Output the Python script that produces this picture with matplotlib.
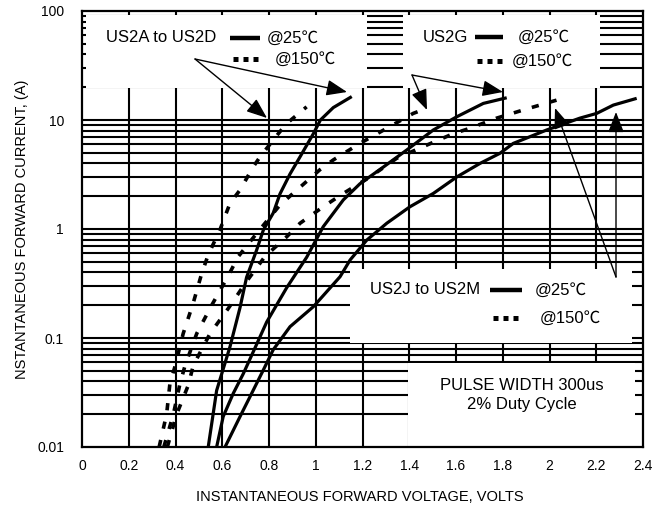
import matplotlib
matplotlib.use("Agg")
import matplotlib.pyplot as plt
from matplotlib.patches import Rectangle
from matplotlib.ticker import FixedLocator, NullLocator, FixedFormatter

plt.rcParams['font.family'] = ['Liberation Sans', 'Noto Sans CJK SC', 'DejaVu Sans']

# ---- data ----
v_a25 = [0.54, 0.576, 0.633, 0.676, 0.704, 0.747, 0.776, 0.818, 0.847, 0.89, 0.933, 0.99, 1.02, 1.075, 1.154]
i_a25 = [0.01, 0.033, 0.083, 0.19, 0.36, 0.64, 0.98, 1.4, 2.1, 3.2, 4.6, 7.5, 10, 13, 16.4]

v_g25 = [0.576, 0.604, 0.647, 0.69, 0.733, 0.79, 0.876, 0.961, 1.032, 1.118, 1.189, 1.289, 1.389, 1.503, 1.603, 1.717, 1.817]
i_g25 = [0.01, 0.019, 0.031, 0.047, 0.075, 0.14, 0.29, 0.55, 1.05, 1.85, 2.6, 3.7, 5.3, 8.1, 10.7, 14.2, 16]

v_j25 = [0.612, 0.676, 0.719, 0.776, 0.818, 0.89, 0.99, 1.104, 1.147, 1.218, 1.304, 1.403, 1.503, 1.603, 1.703, 1.788, 1.845, 1.988, 2.13, 2.202, 2.273, 2.373]
i_j25 = [0.01, 0.019, 0.029, 0.051, 0.078, 0.127, 0.194, 0.365, 0.52, 0.79, 1.13, 1.6, 2.12, 3.0, 4.0, 4.95, 6.1, 8.1, 10.4, 11.5, 13.7, 15.8]

v_a150 = [0.33, 0.362, 0.376, 0.398, 0.433, 0.476, 0.512, 0.54, 0.59, 0.633, 0.676, 0.733, 0.762, 0.84, 0.876, 0.961]
i_a150 = [0.01, 0.02, 0.038, 0.055, 0.11, 0.21, 0.39, 0.58, 0.98, 1.72, 2.28, 3.73, 4.6, 7.5, 9.3, 13.2]

v_g150 = [0.35, 0.391, 0.419, 0.441, 0.491, 0.555, 0.619, 0.669, 0.747, 0.847, 0.911, 1.018, 1.075, 1.189, 1.304, 1.417, 1.475]
i_g150 = [0.01, 0.02, 0.038, 0.056, 0.11, 0.2, 0.35, 0.56, 0.91, 1.66, 2.2, 3.5, 4.3, 6.1, 8.4, 11.5, 12.8]

v_j150 = [0.365, 0.405, 0.455, 0.476, 0.548, 0.626, 0.704, 0.783, 0.876, 0.933, 1.032, 1.118, 1.232, 1.346, 1.46, 1.589, 1.66, 1.774, 1.89, 2.03]
i_j150 = [0.01, 0.02, 0.037, 0.056, 0.11, 0.187, 0.33, 0.56, 0.85, 1.13, 1.6, 2.12, 3.0, 4.45, 5.7, 7.5, 8.4, 10.4, 12.4, 15.2]

x_ticks = [0, 0.2, 0.4, 0.6, 0.8, 1.0, 1.2, 1.4, 1.6, 1.8, 2.0, 2.2, 2.4]
x_labels = ['0', '0.2', '0.4', '0.6', '0.8', '1', '1.2', '1.4', '1.6', '1.8', '2', '2.2', '2.4']
y_ticks = [0.01, 0.1, 1, 10, 100]
y_labels = ['0.01', '0.1', '1', '10', '100']

# ---- figure ----
W, H = 669, 508
fig = plt.figure(figsize=(W / 100, H / 100), dpi=100)
L, R, T, B = 82, 643, 11, 447
ax = fig.add_axes([L / W, 1 - B / H, (R - L) / W, (B - T) / H])
ax.set_xlim(0, 2.4)
ax.set_yscale('log')
ax.set_ylim(0.01, 100)


def fx(px):
    return (px - L) / (R - L)


def fy(py):
    return (B - py) / (B - T)


# grid
for x in x_ticks[1:-1]:
    ax.axvline(x, color='black', lw=1.5, zorder=1)
for dec in [0.01, 0.1, 1, 10]:
    for m in range(1, 10):
        val = dec * m
        if val > 0.01:
            ax.axhline(val, color='black', lw=1.5, zorder=1)

# white boxes
boxes = [(86, 15, 367, 88), (403, 15, 600, 88), (350, 269, 632, 343), (408, 363, 635, 447)]
for x0, y0, x1, y1 in boxes:
    ax.add_patch(Rectangle((fx(x0), fy(y1)), fx(x1) - fx(x0), fy(y0) - fy(y1),
                           transform=ax.transAxes, facecolor='white', edgecolor='none', zorder=2))

solid = dict(color='black', lw=2.3, solid_capstyle='butt', zorder=4)
dash = dict(color='black', lw=2.6, linestyle=(0, (2.0, 3.2)), zorder=4)

ax.plot(v_a25, i_a25, **solid)
ax.plot(v_g25, i_g25, **solid)
ax.plot(v_j25, i_j25, **solid)
ax.plot(v_a150, i_a150, **dash)
ax.plot(v_g150, i_g150, **dash)
ax.plot(v_j150, i_j150, **dash)

# legends
fs = 12
leg_solid = dict(color='black', lw=3.2, solid_capstyle='butt', transform=ax.transAxes, zorder=5)
leg_dash = dict(color='black', lw=3.6, linestyle=(0, (1.0, 1.0)), transform=ax.transAxes, zorder=5)


def legend(text_x, y1, s_x0, s_x1, t25_x, y2, d_x0, d_x1, t150_x, label):
    if label:
        ax.text(fx(text_x), fy(y1), label, transform=ax.transAxes, fontsize=fs, va='center', ha='left', zorder=5)
    ax.plot([fx(s_x0), fx(s_x1)], [fy(y1), fy(y1)], **leg_solid)
    ax.text(fx(t25_x), fy(y1), '@25\u2103', transform=ax.transAxes, fontsize=fs, va='center', ha='left', zorder=5)
    ax.plot([fx(d_x0), fx(d_x1)], [fy(y2), fy(y2)], **leg_dash)
    ax.text(fx(t150_x), fy(y2), '@150\u2103', transform=ax.transAxes, fontsize=fs, va='center', ha='left', zorder=5)


legend(106, 38, 230, 260, 267, 59, 233, 258, 275, 'US2A to US2D')
legend(423, 37, 475, 503, 518, 61, 477, 507, 512, 'US2G')
legend(370, 290, 490, 522, 535, 318, 493, 522, 540, 'US2J to US2M')

ax.text(fx(522), fy(385), 'PULSE WIDTH 300us', transform=ax.transAxes, fontsize=fs, ha='center', va='center', zorder=5)
ax.text(fx(522), fy(405), '2% Duty Cycle', transform=ax.transAxes, fontsize=fs, ha='center', va='center', zorder=5)

# arrows
arrows = [((195, 59), (267, 118)), ((195, 59), (347, 92)),
          ((412, 75), (427, 110)), ((412, 75), (503, 92)),
          ((616, 277), (555, 108)), ((616, 277), (616, 112))]
for (sx, sy), (ex, ey) in arrows:
    ax.annotate('', xy=(fx(ex), fy(ey)), xycoords='axes fraction',
                xytext=(fx(sx), fy(sy)), textcoords='axes fraction',
                arrowprops=dict(arrowstyle='-|>,head_length=0.9,head_width=0.35', color='black', lw=1.0,
                                shrinkA=0, shrinkB=0, mutation_scale=14), zorder=6)

# axes
ax.xaxis.set_major_locator(FixedLocator(x_ticks))
ax.xaxis.set_major_formatter(FixedFormatter(x_labels))
ax.yaxis.set_major_locator(FixedLocator(y_ticks))
ax.yaxis.set_major_formatter(FixedFormatter(y_labels))
ax.yaxis.set_minor_locator(NullLocator())
ax.tick_params(axis='both', length=0, labelsize=10)
ax.tick_params(axis='x', pad=9)
ax.tick_params(axis='y', pad=13)
for s in ax.spines.values():
    s.set_linewidth(1.6)
    s.set_zorder(7)

ax.text(0.495, fy(497), 'INSTANTANEOUS FORWARD VOLTAGE, VOLTS', transform=ax.transAxes,
        fontsize=10.5, ha='center', va='center')
ax.text(fx(22), 0.5, 'NSTANTANEOUS FORWARD CURRENT, (A)', transform=ax.transAxes,
        fontsize=10.5, ha='center', va='center', rotation=90)

fig.savefig('out.png', dpi=100)
